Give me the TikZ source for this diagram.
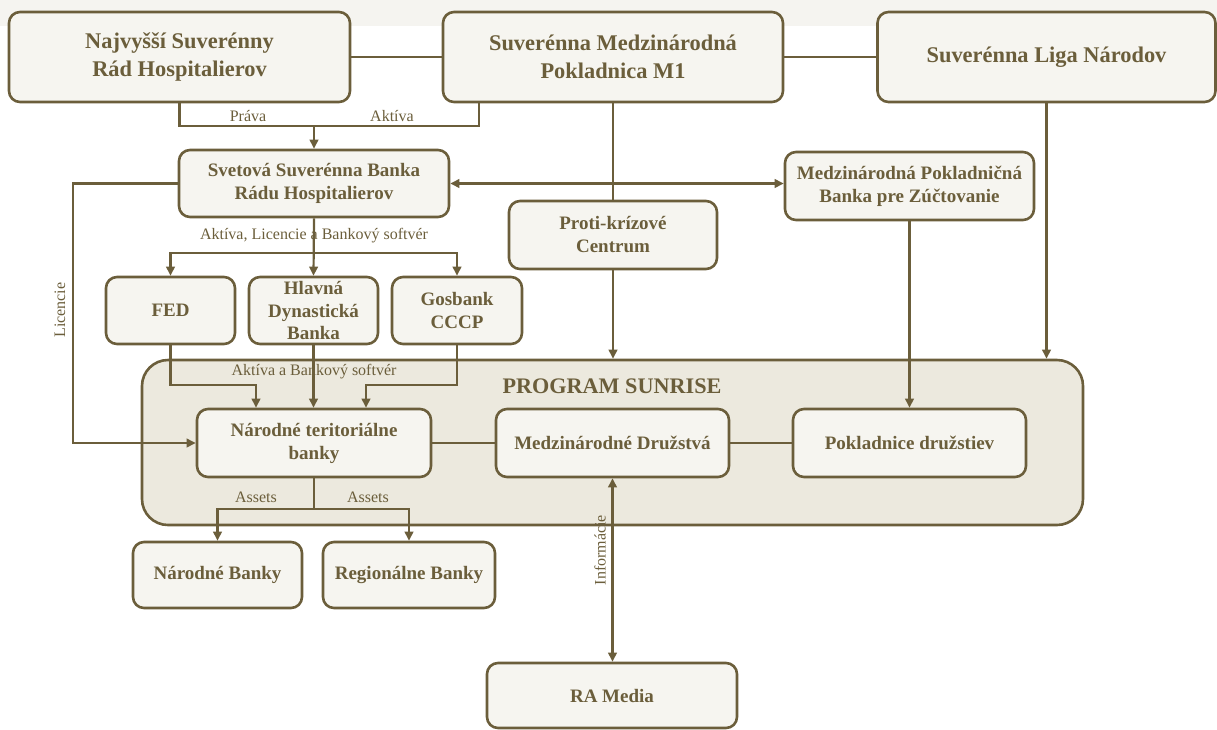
\documentclass[tikz,border=0pt]{standalone}
\usepackage{fontspec}
\setmainfont{Liberation Serif}
\usetikzlibrary{arrows.meta,calc}
\definecolor{ink}{HTML}{6B5E3B}
\definecolor{boxfill}{HTML}{F6F5F0}
\definecolor{progfill}{HTML}{ECE9DE}
\definecolor{band}{HTML}{F5F4F0}
\tikzset{
  box/.style={draw=ink, fill=boxfill, line width=2.6pt, rounded corners=11pt, align=center, text=ink, inner sep=0pt},
  bigtxt/.style={font=\fontsize{22.4}{27.5}\selectfont\bfseries},
  midtxt/.style={font=\fontsize{19}{23}\selectfont\bfseries},
  conn/.style={draw=ink, line width=2.2pt},
  arr/.style={conn, -{Triangle[length=9pt,width=8.5pt]}},
  darr/.style={conn, {Triangle[length=9pt,width=8.5pt]}-{Triangle[length=9pt,width=8.5pt]}},
  lbl/.style={text=ink, font=\fontsize{16}{19}\selectfont, inner sep=1pt},
}
\begin{document}
\begin{tikzpicture}[x=1pt,y=-1pt]
\useasboundingbox (0,0) rectangle (1217,729);
\fill[band] (0,0) rectangle (1217,26);
% container
\node[draw=ink, fill=progfill, line width=2.6pt, rounded corners=26pt, minimum width=941pt, minimum height=165pt, inner sep=0pt] (prog) at (612.5,442.5) {};
\node[text=ink, font=\fontsize{22.2}{26}\selectfont\bfseries] (progt) at (612,386) {PROGRAM SUNRISE};
% top row
\node[box,bigtxt,minimum width=341pt,minimum height=90pt] (b1) at (179.5,57) {Najvyšší Suverénny\\Rád Hospitalierov};
\node[box,bigtxt,minimum width=340pt,minimum height=90pt] (b2) at (613,57) {Suverénna Medzinárodná\\Pokladnica M1};
\node[box,bigtxt,minimum width=338pt,minimum height=90pt] (b3) at (1046.5,57) {Suverénna Liga Národov};
% second row
\node[box,midtxt,minimum width=270pt,minimum height=67pt] (b4) at (314,183.5) {Svetová Suverénna Banka\\Rádu Hospitalierov};
\node[box,midtxt,minimum width=249pt,minimum height=68pt] (mp) at (909.5,186) {Medzinárodná Pokladničná\\Banka pre Zúčtovanie};
\node[box,midtxt,minimum width=208pt,minimum height=68pt] (pk) at (613,235) {Proti-krízové\\Centrum};
% third row
\node[box,midtxt,minimum width=129pt,minimum height=67pt] (fed) at (170.5,310.5) {FED};
\node[box,midtxt,minimum width=129pt,minimum height=67pt,font=\fontsize{19}{22.5}\selectfont\bfseries] (hdb) at (313.5,310.5) {Hlavná\\Dynastická\\Banka};
\node[box,midtxt,minimum width=130pt,minimum height=67pt] (gos) at (457,310.5) {Gosbank\\CCCP};
% inside program
\node[box,midtxt,minimum width=234pt,minimum height=68pt] (ntb) at (314,443) {Národné teritoriálne\\banky};
\node[box,midtxt,minimum width=233pt,minimum height=68pt] (md) at (612.5,443) {Medzinárodné Družstvá};
\node[box,midtxt,minimum width=233pt,minimum height=68pt] (pd) at (909.5,443) {Pokladnice družstiev};
% bottom
\node[box,midtxt,minimum width=169pt,minimum height=66pt] (nb) at (217.5,575) {Národné Banky};
\node[box,midtxt,minimum width=172pt,minimum height=66pt] (rb) at (409,575) {Regionálne Banky};
\node[box,midtxt,minimum width=250pt,minimum height=65pt] (ra) at (612,695.5) {RA Media};
% top connections
\draw[conn] (b1.east) -- (b2.west);
\draw[conn] (b2.east) -- (b3.west);
\coordinate (j1) at (314,126);
\draw[conn] (b1.south) |- (j1) -| ($(b2.south west)+(37,0)$);
\draw[arr] (j1) -- (b4.north);
\node[lbl] (lprava) at (248,116) {Práva};
\node[lbl] (laktiva) at (392,116) {Aktíva};
% M1 to proti and program
\draw[conn] (b2.south) -- (pk.north);
\draw[arr] (pk.south) -- (pk.south |- prog.north);
\draw[arr] (b3.south) -- (b3.south |- prog.north);
\draw[arr] (mp.south) -- (pd.north);
\draw[darr] (b4.east) -- (b4.east -| mp.west);
% licencie
\draw[arr] (b4.west) -- ++(-105,0) |- (ntb.west);
\node[lbl, rotate=90] (llic) at (60,310) {Licencie};
% b4 to third row
\node[lbl] (lalb) at (314,236) {Aktíva, Licencie a Bankový softvér};
\coordinate (j2) at (314,253);
\draw[arr] (b4.south) -- (hdb.north);
\draw[arr] (j2) -| (fed.north);
\draw[arr] (j2) -| (gos.north);
% third row to ntb
\node[lbl] (lab) at (314,372) {Aktíva a Bankový softvér};
\draw[arr] (fed.south) -- ++(0,40) -| ($(ntb.north)+(-58,0)$);
\draw[arr] (hdb.south) -- (hdb.south |- ntb.north);
\draw[arr] (gos.south) -- ++(0,40) -| ($(ntb.north)+(52,0)$);
% program internal
\draw[conn] (ntb.east) -- (md.west);
\draw[conn] (md.east) -- (pd.west);
% ntb to banks
\coordinate (j3) at (314,509);
\draw[conn] (ntb.south) -- (j3);
\draw[arr] (j3) -| (nb.north);
\draw[arr] (j3) -| (rb.north);
\node[lbl] (las1) at (256,497) {Assets};
\node[lbl] (las2) at (368,497) {Assets};
% informacie
\draw[darr] (md.south) -- (md.south |- ra.north);
\node[lbl, rotate=90] (linf) at (600,550) {Informácie};
\end{tikzpicture}
\end{document}
